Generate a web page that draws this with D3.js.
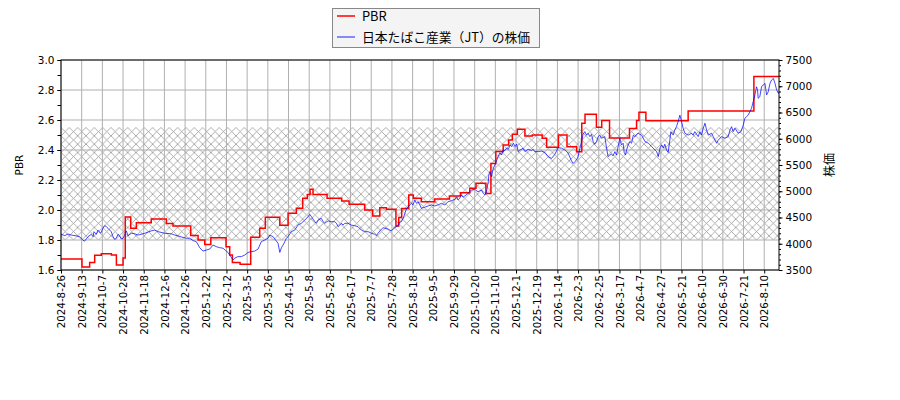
<!DOCTYPE html>
<html>
<head>
<meta charset="utf-8">
<script src="https://cdn.jsdelivr.net/npm/d3@7"></script>
<style>
body { margin: 0; background: #fff; }
text { font-family: "DejaVu Sans", sans-serif; }
</style>
</head>
<body>
<svg id="chart" width="900" height="400"></svg>
<script>
// x axis: one tick every 14 trading days
const tickDates = ["2024-8-26","2024-9-13","2024-10-7","2024-10-28","2024-11-18","2024-12-6","2024-12-26",
  "2025-1-22","2025-2-12","2025-3-5","2025-3-26","2025-4-15","2025-5-8","2025-5-28","2025-6-17","2025-7-7",
  "2025-7-28","2025-8-18","2025-9-5","2025-9-29","2025-10-20","2025-11-10","2025-12-1","2025-12-19",
  "2026-1-14","2026-2-3","2026-2-25","2026-3-17","2026-4-7","2026-4-27","2026-5-21","2026-6-10",
  "2026-6-30","2026-7-21","2026-8-10"];
const tickStep = 14;
const lastDay = 486;

// PBR, stepped: [trading day, value]
const pbrSteps = [[0,1.673],[14.2,1.62],[19.4,1.65],[22.8,1.698],[27.3,1.709],[34.1,1.70],[37.5,1.633],
  [42,1.68],[43.5,1.953],[47.2,1.878],[51,1.915],[61.1,1.94],[71.3,1.91],[75.8,1.893],[87.8,1.83],
  [92.8,1.80],[97.3,1.77],[101.4,1.815],[111.7,1.755],[114.2,1.70],[116,1.65],[121.2,1.638],[128.4,1.818],
  [134.5,1.878],[138.3,1.951],[148.1,1.898],[153.7,1.978],[159.3,2.011],[163.6,2.078],[166.7,2.104],
  [168.6,2.138],[170.6,2.104],[180.1,2.078],[190,2.06],[195,2.038],[205.6,2.0],[211,1.96],[215.8,2.015],
  [220.3,2.005],[226.7,1.893],[228.6,1.95],[230.6,2.01],[235.4,2.10],[238.5,2.078],[243.9,2.055],
  [253,2.073],[262.9,2.093],[270.4,2.115],[276.7,2.145],[280.9,2.178],[287.6,2.11],[291,2.31],
  [294.3,2.39],[299.3,2.433],[303,2.467],[305.5,2.505],[308.9,2.538],[314,2.493],[319,2.50],
  [325.7,2.478],[328.7,2.418],[336.7,2.50],[342.5,2.422],[349,2.389],[352.5,2.578],[354.7,2.638],
  [362.4,2.551],[366,2.597],[371.3,2.48],[384.8,2.544],[389.6,2.597],[391.2,2.651],[395.9,2.595],
  [424.5,2.66],[469,2.89]];

// 株価: [trading day, price]
const priceSeries = [[0,4180],[2.5,4155],[4.7,4185],[7,4165],[10.4,4150],[12.6,4135],[14.9,4065],[16,4050],
  [18.3,4135],[20.5,4180],[21.7,4135],[22.3,4230],[23.9,4180],[25,4260],[26.9,4200],[28.4,4295],[29.6,4345],
  [30.7,4325],[31.8,4295],[34,4230],[35.2,4135],[36.3,4085],[37.4,4105],[38.6,4180],[39.7,4150],[40.8,4090],
  [42,4105],[43.1,4165],[44.2,4245],[45.4,4155],[47.6,4200],[49.9,4190],[52.1,4165],[56.7,4200],[61.1,4245],
  [63.4,4260],[65.7,4230],[70.2,4200],[74.7,4190],[77,4165],[79.2,4150],[82.6,4120],[84.9,4105],[87.1,4105],
  [89.4,4060],[91.6,4040],[93.9,3925],[96.1,3860],[98.4,3880],[100.7,3900],[102.9,3975],[105.1,3945],
  [107.4,3925],[109.7,3915],[111.9,3860],[113,3835],[114.2,3785],[116.5,3690],[117.6,3725],[119.8,3755],
  [122.1,3755],[124.4,3785],[126.6,3835],[128.8,3850],[131.1,3860],[133.4,3900],[135.6,4040],[137.9,4070],
  [140.1,4105],[141.3,4165],[143.5,4135],[144.7,4090],[146.9,4010],[148.1,3835],[149.2,3925],[150.3,3975],
  [151.5,4040],[152.5,4105],[153.7,4135],[155.9,4230],[158.2,4260],[160.5,4360],[162.7,4390],[165,4450],
  [167.2,4515],[168.4,4560],[169.5,4515],[171.8,4420],[172.9,4390],[174,4450],[176.2,4485],[177.4,4420],
  [178.5,4390],[180.8,4435],[183,4420],[185.3,4420],[186.4,4390],[187.6,4325],[188.7,4355],[189.8,4390],
  [190.9,4355],[192.1,4390],[194.3,4390],[196.5,4355],[198.8,4345],[201,4325],[203.3,4260],[205.6,4230],
  [207.9,4230],[210.1,4200],[212.4,4180],[213.5,4155],[214.6,4200],[216.9,4280],[218,4305],[219.2,4295],
  [221.4,4280],[223.6,4245],[224.8,4280],[225.9,4305],[228.2,4345],[229.3,4410],[230.4,4420],[231.6,4485],
  [232.8,4580],[233.9,4675],[235,4705],[237.2,4770],[238.3,4740],[239.5,4835],[240.6,4770],[241.7,4800],
  [242.9,4740],[243.9,4675],[246.2,4695],[248.5,4720],[250.7,4740],[253,4720],[255.2,4740],[257.5,4770],
  [259.8,4740],[262,4800],[264.3,4820],[266.6,4845],[267.7,4895],[268.8,4835],[269.9,4865],[271,4930],
  [272.2,4885],[273.3,4910],[275.6,4960],[276.7,4990],[277.8,5025],[280.1,5035],[282.3,4990],[284.6,5025],
  [285.8,4960],[286.9,4930],[288,4990],[289.2,5180],[289.6,5310],[290.3,5375],[291.4,5280],[292.6,5435],
  [293.7,5500],[295.9,5660],[297.1,5735],[298.2,5690],[299.3,5785],[300.5,5775],[301.6,5820],[302.8,5800],
  [303.9,5880],[305,5850],[306.2,5915],[307.3,5850],[308.4,5900],[309.5,5755],[310.6,5785],[311.7,5800],
  [312.8,5820],[314,5755],[316.2,5800],[318.5,5775],[319.6,5800],[320.7,5755],[323,5755],[325.2,5765],
  [327.5,5740],[329.7,5660],[332,5625],[334.3,5705],[336.5,5830],[338.8,5820],[341.1,5785],[343.3,5725],
  [345.6,5575],[346.7,5530],[347.8,5565],[348.9,5595],[350,5660],[351.2,5820],[352.3,5945],[353.4,6085],
  [354.6,6135],[355.7,6070],[356.8,6105],[358,6040],[359.1,6085],[360.2,5945],[361.3,5895],[362.5,5945],
  [363.6,6040],[364.7,6070],[365.8,6010],[368.1,6040],[369.3,5820],[370.3,5660],[371.5,5690],[372.6,5705],
  [373.7,5675],[374.9,5755],[376,5690],[377.1,5850],[378.3,6010],[379.4,5880],[380.5,5915],[381.2,5740],
  [382.1,5690],[382.8,5785],[383.9,5880],[385.1,5945],[386.2,5915],[387.4,6070],[388.5,6040],[389.6,6085],
  [390.7,6105],[391.9,6085],[393,6070],[395.3,5945],[397.6,5915],[399.8,5850],[402.1,5785],[403.2,5755],
  [404.3,5660],[405.5,5830],[406.6,5880],[407.7,5820],[408.7,5895],[409.9,5785],[411,5740],[412.1,5975],
  [412.8,6135],[414.4,6070],[415.4,6165],[416.6,6230],[417.7,6325],[418.9,6450],[420,6340],[421.1,6200],
  [422.3,6105],[424.5,6070],[426.8,6105],[427.9,6070],[429,6135],[431.3,6040],[432.5,6135],[433.5,6070],
  [434.7,6200],[435.9,6295],[437,6165],[438.1,6070],[440.4,6105],[441.5,6040],[442.7,5975],[443.8,5915],
  [444.9,5975],[447.1,6040],[449.4,6010],[451.6,6040],[452.8,6165],[453.9,6230],[455,6135],[456.2,6200],
  [458.4,6105],[460.2,6135],[461.8,6260],[462.9,6390],[464,6420],[465.1,6450],[466.3,6515],[467.4,6580],
  [468.5,6705],[469.2,6770],[469.7,6835],[470.8,6990],[471.5,6930],[471.9,6770],[473,6800],[474.2,6990],
  [475.3,7025],[476.5,7055],[477.6,6835],[478.7,6895],[479.9,7055],[481,7120],[482.2,7150],[483.3,7055],
  [484.4,6930],[485.6,6865],[486,6900]];

// hatched PBR band
const bandLow = 1.8, bandHigh = 2.55;

const pbrTicks = [1.6, 1.8, 2.0, 2.2, 2.4, 2.6, 2.8, 3.0];
const priceTicks = [3500, 4000, 4500, 5000, 5500, 6000, 6500, 7000, 7500];

const mLeft = 61, mRight = 779, mTop = 60, mBottom = 270;
const svg = d3.select('#chart');

const x = d3.scaleLinear().domain([0, lastDay]).range([mLeft, mRight]);
const yL = d3.scaleLinear().domain([1.6, 3.0]).range([mBottom, mTop]);
const yR = d3.scaleLinear().domain([3500, 7500]).range([mBottom, mTop]);

// hatch pattern
const defs = svg.append('defs');
const pat = defs.append('pattern')
  .attr('id', 'hatch')
  .attr('patternUnits', 'userSpaceOnUse')
  .attr('x', mLeft).attr('y', yL(bandHigh))
  .attr('width', 8.33).attr('height', 8.33);
pat.append('path')
  .attr('d', 'M0,0L8.33,8.33M0,8.33L8.33,0')
  .attr('stroke', '#999')
  .attr('stroke-width', 0.8);

defs.append('clipPath').attr('id', 'plot')
  .append('rect').attr('x', mLeft).attr('y', mTop)
  .attr('width', mRight - mLeft).attr('height', mBottom - mTop);

svg.append('rect')
  .attr('x', x(0)).attr('width', x(lastDay) - x(0))
  .attr('y', yL(bandHigh)).attr('height', yL(bandLow) - yL(bandHigh))
  .attr('fill', 'url(#hatch)');

// grid
const tickDays = tickDates.map((d, i) => i * tickStep);
svg.append('g').selectAll('line').data(tickDays).join('line')
  .attr('x1', d => x(d)).attr('x2', d => x(d))
  .attr('y1', mTop).attr('y2', mBottom)
  .attr('stroke', '#b0b0b0').attr('stroke-width', 1);
svg.append('g').selectAll('line').data(pbrTicks).join('line')
  .attr('x1', mLeft).attr('x2', mRight)
  .attr('y1', d => yL(d)).attr('y2', d => yL(d))
  .attr('stroke', '#b0b0b0').attr('stroke-width', 1);

// lines
const plot = svg.append('g').attr('clip-path', 'url(#plot)');
const pbrLine = d3.line()
  .x(d => x(d[0])).y(d => yL(d[1]))
  .curve(d3.curveStepAfter);
plot.append('path')
  .datum(pbrSteps.concat([[lastDay, pbrSteps[pbrSteps.length - 1][1]]]))
  .attr('d', pbrLine)
  .attr('fill', 'none').attr('stroke', '#ff0000').attr('stroke-width', 1.5);

const priceLine = d3.line().x(d => x(d[0])).y(d => yR(d[1]));
plot.append('path')
  .datum(priceSeries)
  .attr('d', priceLine)
  .attr('fill', 'none').attr('stroke', '#0000ff').attr('stroke-width', 0.9).attr('opacity', 0.8);

// axes
const xAxis = svg.append('g')
  .attr('transform', `translate(0,${mBottom})`)
  .call(d3.axisBottom(x).tickValues(tickDays).tickFormat((d, i) => tickDates[i]).tickSize(3.5).tickSizeOuter(0));
xAxis.selectAll('text')
  .attr('transform', 'rotate(-90)')
  .attr('text-anchor', 'end')
  .attr('x', -5).attr('y', 0).attr('dy', '0.35em')
  .style('font-size', '10.3px');

const minorL = d3.range(16, 31).map(v => v / 10);
svg.append('g')
  .attr('transform', `translate(${mLeft},0)`)
  .call(d3.axisLeft(yL).tickValues(minorL).tickFormat('').tickSize(3.5).tickSizeOuter(0));
svg.append('g')
  .attr('transform', `translate(${mLeft},0)`)
  .call(d3.axisLeft(yL).tickValues(pbrTicks).tickFormat(d3.format('.1f')).tickSize(3.5).tickSizeOuter(0))
  .selectAll('text').style('font-size', '10.5px');

const minorR = d3.range(35, 76).map(v => v * 100);
svg.append('g')
  .attr('transform', `translate(${mRight},0)`)
  .call(d3.axisRight(yR).tickValues(minorR).tickFormat('').tickSize(2).tickSizeOuter(0));
svg.append('g')
  .attr('transform', `translate(${mRight},0)`)
  .call(d3.axisRight(yR).tickValues(priceTicks).tickFormat(d3.format('d')).tickSize(3.5).tickSizeOuter(0))
  .selectAll('text').style('font-size', '10.5px');

svg.selectAll('.domain').remove();
svg.append('rect')
  .attr('x', mLeft).attr('y', mTop)
  .attr('width', mRight - mLeft).attr('height', mBottom - mTop)
  .attr('fill', 'none').attr('stroke', '#000').attr('stroke-width', 1);

// axis titles
svg.append('text')
  .attr('transform', `translate(23,${(mTop + mBottom) / 2}) rotate(-90)`)
  .attr('text-anchor', 'middle')
  .style('font-size', '10.5px')
  .text('PBR');
svg.append('text')
  .attr('transform', `translate(834,${(mTop + mBottom) / 2}) rotate(-90)`)
  .attr('text-anchor', 'middle')
  .style('font-family', '"Noto Sans CJK JP", sans-serif')
  .style('font-size', '12px')
  .text('株価');

// legend
const legend = svg.append('g');
legend.append('rect')
  .attr('x', 332.5).attr('y', 8.5).attr('width', 207).attr('height', 39)
  .attr('fill', '#f4f4f4').attr('stroke', '#888').attr('stroke-width', 1);
const items = [['PBR', '#ff0000', 1.5], ['日本たばこ産業（JT）の株価', '#5a5aff', 1.4]];
items.forEach((it, i) => {
  const yy = 16 + i * 21;
  legend.append('line')
    .attr('x1', 337).attr('x2', 355).attr('y1', yy).attr('y2', yy)
    .attr('stroke', it[1]).attr('stroke-width', it[2]);
  legend.append('text')
    .attr('x', 362).attr('y', yy + 4.5)
    .style('font-family', '"Noto Sans CJK JP", sans-serif')
    .style('font-size', '12.8px')
    .text(it[0]);
});
</script>
</body>
</html>
